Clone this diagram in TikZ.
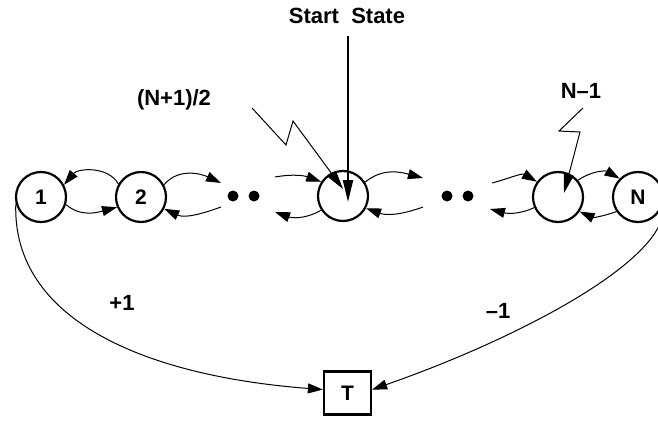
\documentclass[tikz,border=0pt]{standalone}
\usepackage{fontspec}
\setmainfont{Liberation Sans}
\usetikzlibrary{arrows.meta}
\begin{document}
\begin{tikzpicture}[x=1pt,y=-1pt,
  state/.style={circle,draw,line width=2.2pt,minimum size=50pt,inner sep=0pt,
    font=\fontsize{21}{24}\selectfont\bfseries},
  lbl/.style={font=\fontsize{22}{25}\selectfont\bfseries,inner sep=0pt},
  dotnode/.style={circle,fill,inner sep=0pt,minimum size=11pt},
  tr/.style={line width=1pt,-{Triangle[length=15pt,width=10pt]}},
  zz/.style={line width=1pt,-{Triangle[length=19pt,width=10pt]}},
  bigtr/.style={line width=2.2pt,-{Triangle[length=22pt,width=10pt]}},
  boxnode/.style={draw,line width=2.2pt,minimum width=47pt,minimum height=43pt,
    inner sep=0pt,font=\fontsize{21}{24}\selectfont\bfseries}
]
\useasboundingbox (0,0) rectangle (658,420);
\clip (0,0) rectangle (658,420);

% states
\node[state] (c1) at (41,197) {1};
\node[state] (c2) at (141,197) {2};
\node[state] (cm) at (343,196) {};
\node[state] (cn1) at (558,197) {};
\node[state] (cN) at (638,197) {N};
\node[boxnode] (T) at (347.5,393) {T};

% dots
\node[dotnode] (dA) at (233,196) {};
\node[dotnode] (dB) at (254,196) {};
\node[dotnode] (dC) at (447,196) {};
\node[dotnode] (dD) at (468,196) {};

% free ends near the dots
\coordinate (e1) at (221,183);
\coordinate (e2) at (221,207);
\coordinate (e3) at (275,177);
\coordinate (e4) at (275,212);
\coordinate (e5) at (423,178);
\coordinate (e6) at (423,207);
\coordinate (e7) at (492,183);
\coordinate (e8) at (490,209);

% arcs between neighbours
\draw[tr] (c2.150) to[out=120,in=50] (c1.28);
\draw[tr] (c1.-17) to[out=-40,in=195] (c2.203);
\draw[tr] (c2.28) to[out=50,in=155] (e1);
\draw[tr] (e2) to[out=200,in=-25] (c2.-27);
\draw[tr] (e3) to[out=10,in=160] (cm.147);
\draw[tr] (cm.213) to[out=210,in=-20] (e4);
\draw[tr] (cm.32) to[out=40,in=165] (e5);
\draw[tr] (e6) to[out=200,in=-20] (cm.-28);
\draw[tr] (e7) to[out=15,in=150] (cn1.144);
\draw[tr] (cn1.204) to[out=205,in=-15] (e8);
\draw[tr] (cn1.40) to[out=35,in=150] (cN.135);
\draw[tr] (cN.214) to[out=200,in=-25] (cn1.-34);

% labels
\node[lbl] (ss) at (347,16) {Start\ \ State};
\node[lbl] (lmid) at (174,100) {(N+1)/2};
\node[lbl] (lnm1) at (581,91) {N–1};
\node[lbl] (lp1) at (122,303) {+1};
\node[lbl] (lm1) at (498,311) {–1};

% start state arrow
\coordinate (stop) at (348,36);
\coordinate (stip) at (348,202);
\draw[bigtr] (stop) -- (stip);

% zigzag pointers
\coordinate (z1) at (252,108);
\coordinate (z2) at (286,145);
\coordinate (z3) at (293,121);
\coordinate (z4) at (343,189);
\draw[zz] (z1) -- (z2) -- (z3) -- (z4);
\coordinate (w1) at (583,108);
\coordinate (w2) at (559,131);
\coordinate (w3) at (580,132);
\coordinate (w4) at (564,193);
\draw[zz] (w1) -- (w2) -- (w3) -- (w4);

% absorbing transitions
\draw[tr] (c1.195) .. controls (12,320) and (145,376) .. (T.172);
\draw[tr] (cN.-15) .. controls (672,258) and (520,338) .. (T.8);
\end{tikzpicture}
\end{document}
